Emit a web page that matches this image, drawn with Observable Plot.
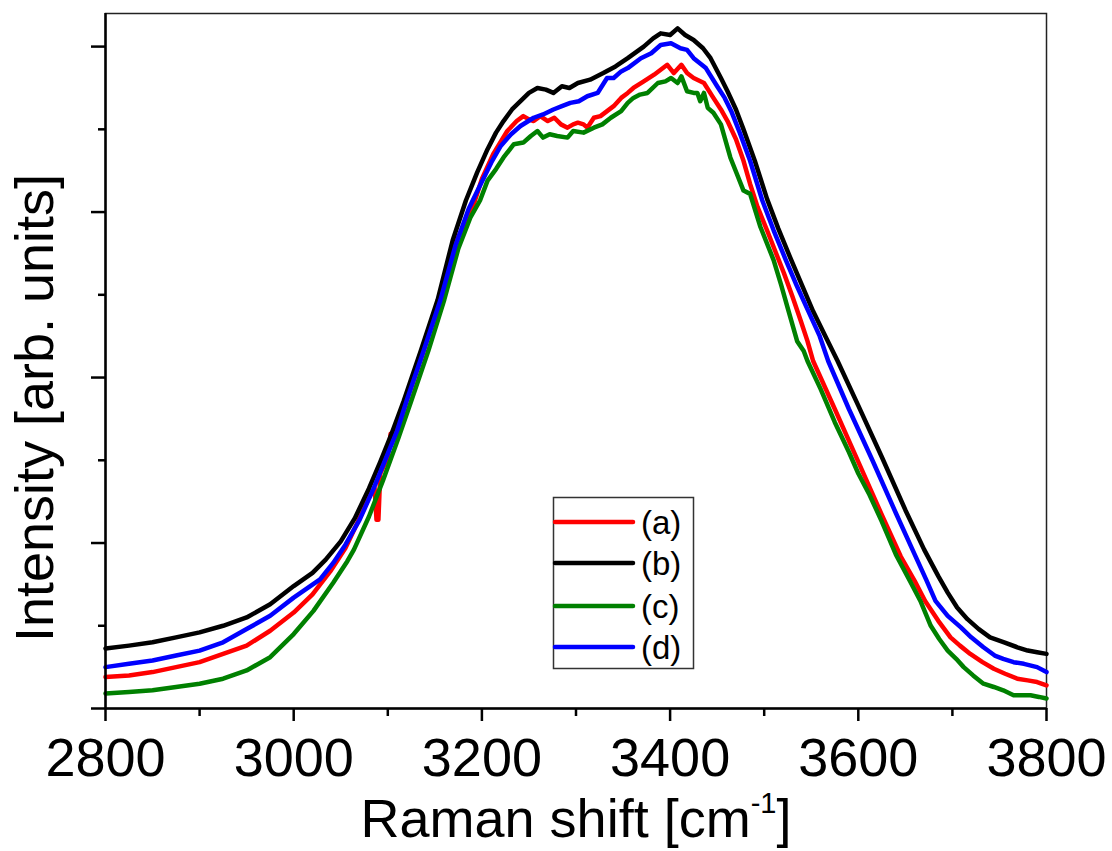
<!DOCTYPE html>
<html><head><meta charset="utf-8">
<script src="https://cdn.jsdelivr.net/npm/d3@7"></script>
<script src="https://cdn.jsdelivr.net/npm/@observablehq/plot@0.6"></script>
<style>body{margin:0;background:#fff;} #chart svg{display:block;}</style>
</head><body><div id="chart"></div>
<script>
const seriesNames = ["(a)", "(b)", "(c)", "(d)"];
const seriesColors = ["#ff0000", "#000000", "#008000", "#0000ff"];

const shiftA = [2800,2825,2850,2875,2900,2925,2950,2975,3000,3020,3039,3055,3070,3082,3086,3088,3090,3092,3100,3103,3106,3120,3138,3155,3170,3188,3200,3212,3227,3237,3244,3250,3255,3262,3270,3277,3284,3291,3297,3302,3308,3312,3319,3326,3333,3340,3348,3355,3361,3372,3383,3390,3397,3404,3412,3418,3425,3436,3446,3454,3461,3470,3478,3485,3493,3503,3512,3521,3530,3539,3546,3552,3575,3600,3625,3645,3660,3671,3685,3698,3708,3719,3732,3744,3756,3769,3780,3790,3800];
const intensityA = [0.19,0.20,0.22,0.25,0.28,0.33,0.38,0.47,0.58,0.69,0.83,0.97,1.15,1.30,1.33,1.14,1.14,1.42,1.52,1.66,1.62,1.86,2.16,2.47,2.80,2.99,3.20,3.35,3.49,3.55,3.58,3.56,3.55,3.58,3.55,3.57,3.53,3.51,3.53,3.54,3.53,3.51,3.57,3.58,3.61,3.64,3.69,3.72,3.75,3.79,3.83,3.86,3.89,3.84,3.89,3.84,3.81,3.78,3.69,3.62,3.55,3.44,3.31,3.17,3.03,2.89,2.76,2.63,2.49,2.34,2.22,2.10,1.81,1.49,1.17,0.92,0.77,0.65,0.53,0.43,0.38,0.33,0.28,0.24,0.21,0.18,0.17,0.16,0.14];

const shiftB = [2800,2825,2850,2875,2900,2925,2950,2975,3000,3020,3034,3050,3065,3080,3092,3104,3117,3135,3153,3169,3183,3195,3206,3215,3223,3232,3241,3250,3259,3268,3276,3285,3293,3302,3315,3329,3342,3355,3372,3382,3390,3400,3408,3416,3425,3435,3443,3454,3461,3470,3478,3490,3503,3515,3528,3540,3552,3565,3578,3600,3625,3650,3670,3685,3695,3705,3716,3728,3740,3755,3769,3780,3790,3800];
const intensityB = [0.363,0.38,0.40,0.43,0.46,0.50,0.55,0.63,0.74,0.82,0.90,1.01,1.15,1.33,1.49,1.66,1.86,2.16,2.47,2.83,3.07,3.24,3.38,3.48,3.55,3.62,3.67,3.72,3.75,3.74,3.72,3.76,3.75,3.78,3.80,3.84,3.88,3.93,4.00,4.05,4.08,4.07,4.11,4.07,4.04,3.99,3.93,3.81,3.73,3.62,3.50,3.31,3.08,2.90,2.72,2.56,2.40,2.25,2.10,1.83,1.52,1.20,0.96,0.80,0.70,0.61,0.54,0.48,0.43,0.40,0.37,0.35,0.34,0.33];

const shiftC = [2800,2825,2850,2875,2900,2925,2950,2975,3000,3021,3042,3057,3064,3080,3095,3111,3125,3143,3160,3175,3188,3198,3206,3215,3223,3234,3244,3252,3259,3265,3272,3280,3291,3297,3308,3319,3328,3337,3348,3355,3361,3368,3376,3387,3395,3401,3408,3412,3418,3425,3429,3432,3436,3440,3446,3454,3464,3471,3478,3485,3496,3510,3518,3525,3535,3542,3546,3560,3575,3590,3600,3612,3625,3640,3655,3666,3677,3686,3695,3704,3712,3722,3733,3744,3754,3765,3775,3783,3792,3800];
const intensityC = [0.09,0.10,0.11,0.13,0.15,0.18,0.23,0.31,0.45,0.59,0.76,0.89,0.96,1.16,1.38,1.63,1.86,2.16,2.47,2.78,2.97,3.07,3.19,3.26,3.33,3.41,3.42,3.46,3.49,3.45,3.47,3.46,3.45,3.49,3.48,3.51,3.53,3.57,3.61,3.66,3.69,3.71,3.72,3.78,3.79,3.81,3.78,3.82,3.73,3.72,3.72,3.67,3.72,3.63,3.60,3.53,3.33,3.23,3.13,3.11,2.91,2.71,2.56,2.42,2.22,2.16,2.10,1.93,1.73,1.55,1.42,1.29,1.13,0.93,0.77,0.65,0.50,0.42,0.35,0.30,0.25,0.20,0.15,0.13,0.11,0.08,0.08,0.08,0.07,0.06];

const shiftD = [2800,2825,2850,2875,2900,2925,2950,2975,3000,3028,3042,3055,3070,3085,3100,3110,3120,3138,3156,3172,3186,3198,3210,3220,3231,3241,3255,3265,3276,3285,3294,3303,3312,3323,3333,3340,3348,3355,3369,3380,3390,3401,3411,3418,3425,3438,3450,3458,3465,3474,3485,3498,3510,3523,3535,3547,3559,3568,3590,3615,3640,3660,3672,3682,3695,3709,3720,3733,3745,3754,3765,3776,3790,3800];
const intensityD = [0.25,0.27,0.29,0.32,0.35,0.40,0.48,0.56,0.67,0.78,0.88,0.99,1.14,1.33,1.54,1.68,1.86,2.16,2.47,2.80,3.02,3.16,3.30,3.40,3.47,3.52,3.57,3.59,3.62,3.64,3.66,3.67,3.70,3.72,3.81,3.81,3.85,3.87,3.93,3.96,4.01,4.02,3.99,3.98,3.93,3.87,3.76,3.69,3.61,3.48,3.31,3.07,2.89,2.71,2.55,2.40,2.25,2.10,1.81,1.50,1.18,0.93,0.78,0.65,0.56,0.49,0.43,0.37,0.32,0.30,0.28,0.27,0.25,0.22];

const xMajorTicks = [2800, 3000, 3200, 3400, 3600, 3800];
const xMinorTicks = [2900, 3100, 3300, 3500, 3700];
const yMajorTicks = [0, 1, 2, 3, 4];
const yMinorTicks = [0.5, 1.5, 2.5, 3.5];
const xLabelMain = "Raman shift [cm";
const xLabelSup = "-1";
const xLabelEnd = "]";
const yLabel = "Intensity [arb. units]";

const seriesData = [[shiftA, intensityA], [shiftB, intensityB], [shiftC, intensityC], [shiftD, intensityD]];
const rows = [];
seriesData.forEach(([xs, ys], i) => xs.forEach((x, j) => rows.push({series: seriesNames[i], shift: x, intensity: ys[j]})));

const FONT = "Arial, 'Liberation Sans', sans-serif";

const plot = Plot.plot({
  width: 1112, height: 851,
  marginLeft: 105, marginRight: 66, marginTop: 13, marginBottom: 143,
  style: {fontFamily: FONT, background: "#fff", color: "#000"},
  x: {domain: [2800, 3800], label: null},
  y: {domain: [0, 4.2], label: null},
  color: {domain: seriesNames, range: seriesColors},
  marks: [
    Plot.frame({stroke: "#222", strokeWidth: 1.5}),
    Plot.line(rows, {x: "shift", y: "intensity", z: "series", stroke: "series", strokeWidth: 4.5, strokeLinejoin: "round"}),
    Plot.ruleX([2800], {stroke: "#000", strokeWidth: 2.5}),
    Plot.ruleY([0], {stroke: "#000", strokeWidth: 2.5}),
    Plot.axisX({ticks: xMinorTicks, tickSize: 8, strokeWidth: 2.5, tickFormat: () => "", label: null}),
    Plot.axisX({ticks: xMajorTicks, tickSize: 13, tickPadding: 16, fontSize: 54, strokeWidth: 2.5, tickFormat: d => String(d), label: null}),
    Plot.axisY({ticks: yMinorTicks, tickSize: 7, strokeWidth: 2.5, tickFormat: () => "", label: null}),
    Plot.axisY({ticks: yMajorTicks, tickSize: 14, strokeWidth: 2.5, tickFormat: () => "", label: null})
  ]
});
document.getElementById("chart").appendChild(plot);

const svg = d3.select(plot);
// axis titles
svg.append("text")
  .attr("transform", "translate(53,408) rotate(-90)")
  .attr("text-anchor", "middle")
  .attr("font-family", FONT).attr("font-size", 54).attr("fill", "#000")
  .text(yLabel);
const xt = svg.append("text")
  .attr("x", 576).attr("y", 837)
  .attr("text-anchor", "middle")
  .attr("font-family", FONT).attr("font-size", 54).attr("fill", "#000");
xt.append("tspan").text(xLabelMain);
xt.append("tspan").attr("font-size", 29).attr("dy", -24).text(xLabelSup);
xt.append("tspan").attr("dy", 24).text(xLabelEnd);

// legend
const lg = svg.append("g");
lg.append("rect").attr("x", 553.5).attr("y", 497.5).attr("width", 140).attr("height", 171)
  .attr("fill", "#fff").attr("stroke", "#333").attr("stroke-width", 1.5);
const legendRowsY = [522, 563, 606, 647];
seriesNames.forEach((name, i) => {
  lg.append("line").attr("x1", 555).attr("x2", 633).attr("y1", legendRowsY[i]).attr("y2", legendRowsY[i])
    .attr("stroke", seriesColors[i]).attr("stroke-width", 4.5).attr("stroke-linecap", "round");
  lg.append("text").attr("x", 641).attr("y", legendRowsY[i] + 12)
    .attr("text-anchor", "start")
    .attr("font-family", FONT).attr("font-size", 33).attr("fill", "#000").text(name);
});
</script>
</body></html>
